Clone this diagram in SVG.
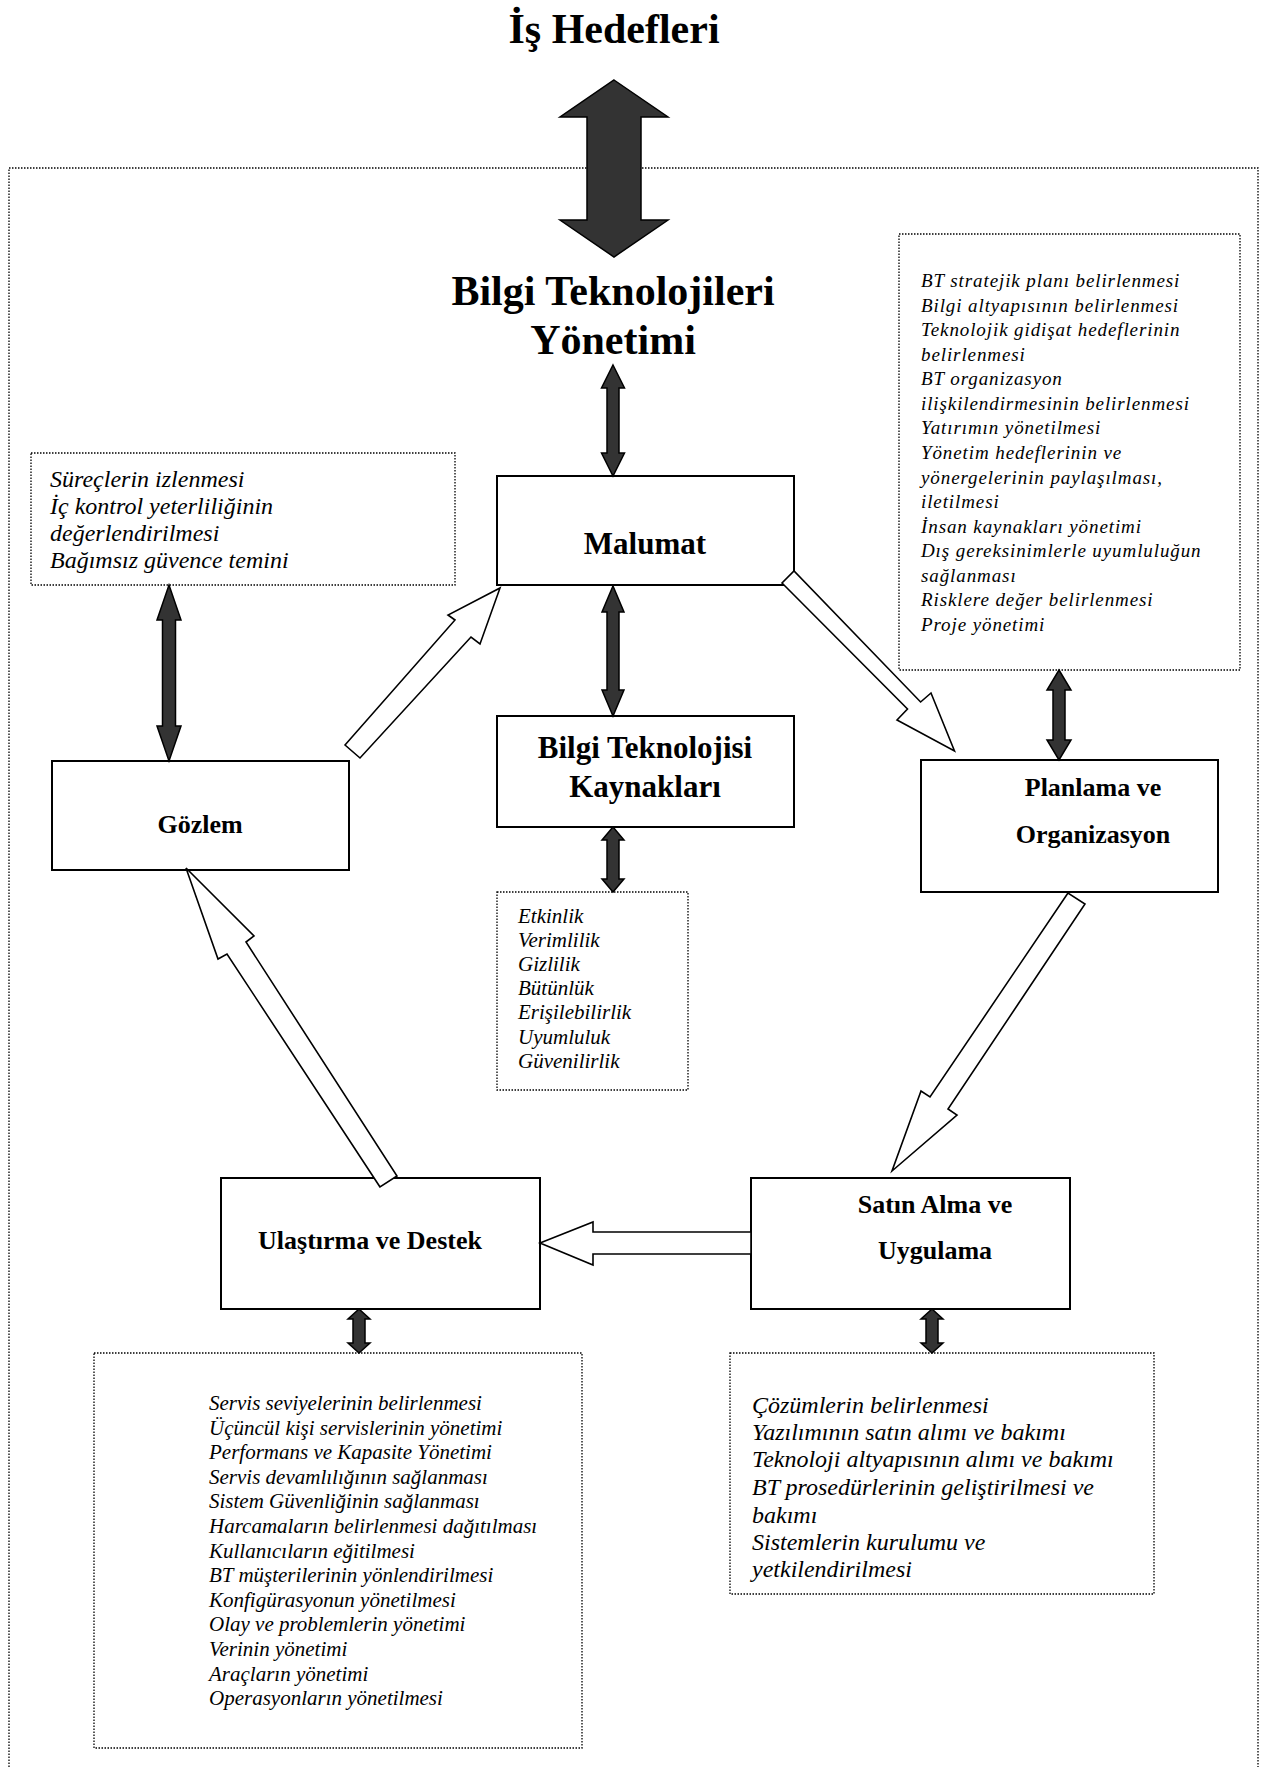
<svg xmlns="http://www.w3.org/2000/svg" width="1270" height="1767" viewBox="0 0 1270 1767">
<style>
.bg{fill:#fff}
.frame{fill:none;stroke:#000;stroke-width:1.3;stroke-dasharray:1.5 1.5}
.dot{fill:#fff;stroke:#000;stroke-width:1.3;stroke-dasharray:1.5 1.5}
.box{fill:#fff;stroke:#000;stroke-width:2}
.dark{fill:#333;stroke:#000;stroke-width:1.5;stroke-linejoin:miter}
.hollow{fill:#fff;stroke:#000;stroke-width:1.6;stroke-linejoin:miter}
.title{font-family:"Liberation Serif","Times New Roman",serif;font-weight:bold;font-size:42px;text-anchor:middle;fill:#000}
.node{font-family:"Liberation Serif","Times New Roman",serif;font-weight:bold;text-anchor:middle;fill:#000}
.list{font-family:"Liberation Serif","Times New Roman",serif;font-style:italic;fill:#000}
</style>
<rect class="bg" x="0" y="0" width="1270" height="1767"/>
<path class="frame" d="M9,1767 V168 H1258 V1767"/>

<g id="title-is-hedefleri">
<text class="title" x="614" y="43">İş Hedefleri</text>
</g>

<g id="bt-yonetimi">
<text class="title" x="613" y="305">Bilgi Teknolojileri</text>
<text class="title" x="613" y="354">Yönetimi</text>
</g>

<g id="node-malumat">
<rect class="box" x="497" y="476" width="297" height="109"/>
<text class="node" x="645" y="554" font-size="31">Malumat</text>
</g>

<g id="node-bt-kaynaklari">
<rect class="box" x="497" y="716" width="297" height="111"/>
<text class="node" x="645" y="758" font-size="31">Bilgi Teknolojisi</text>
<text class="node" x="645" y="797" font-size="31">Kaynakları</text>
</g>

<g id="node-gozlem">
<rect class="box" x="52" y="761" width="297" height="109"/>
<text class="node" x="200" y="833" font-size="26">Gözlem</text>
</g>

<g id="node-planlama">
<rect class="box" x="921" y="760" width="297" height="132"/>
<text class="node" x="1093" y="796" font-size="26">Planlama ve</text>
<text class="node" x="1093" y="843" font-size="26">Organizasyon</text>
</g>

<g id="node-satin-alma">
<rect class="box" x="751" y="1178" width="319" height="131"/>
<text class="node" x="935" y="1213" font-size="26">Satın Alma ve</text>
<text class="node" x="935" y="1259" font-size="26">Uygulama</text>
</g>

<g id="node-ulastirma">
<rect class="box" x="221" y="1178" width="319" height="131"/>
<text class="node" x="370" y="1249" font-size="26">Ulaştırma ve Destek</text>
</g>

<g id="list-gozlem">
<rect class="dot" x="31" y="453" width="424" height="132"/>
<text class="list" font-size="24">
<tspan x="50" y="487">Süreçlerin izlenmesi</tspan>
<tspan x="50" y="514">İç kontrol yeterliliğinin</tspan>
<tspan x="50" y="541">değerlendirilmesi</tspan>
<tspan x="50" y="568">Bağımsız güvence temini</tspan>
</text>
</g>

<g id="list-planlama">
<rect class="dot" x="899" y="234" width="341" height="436"/>
<text class="list" font-size="19" letter-spacing="0.9">
<tspan x="921" y="287">BT stratejik planı belirlenmesi</tspan>
<tspan x="921" y="311.6">Bilgi altyapısının belirlenmesi</tspan>
<tspan x="921" y="336.1">Teknolojik gidişat hedeflerinin</tspan>
<tspan x="921" y="360.7">belirlenmesi</tspan>
<tspan x="921" y="385.3">BT organizasyon</tspan>
<tspan x="921" y="409.9">ilişkilendirmesinin belirlenmesi</tspan>
<tspan x="921" y="434.4">Yatırımın yönetilmesi</tspan>
<tspan x="921" y="459">Yönetim hedeflerinin ve</tspan>
<tspan x="921" y="483.6">yönergelerinin paylaşılması,</tspan>
<tspan x="921" y="508.1">iletilmesi</tspan>
<tspan x="921" y="532.7">İnsan kaynakları yönetimi</tspan>
<tspan x="921" y="557.3">Dış gereksinimlerle uyumluluğun</tspan>
<tspan x="921" y="581.9">sağlanması</tspan>
<tspan x="921" y="606.4">Risklere değer belirlenmesi</tspan>
<tspan x="921" y="631">Proje yönetimi</tspan>
</text>
</g>

<g id="list-kaynaklar">
<rect class="dot" x="497" y="892" width="191" height="198"/>
<text class="list" font-size="21">
<tspan x="518" y="923">Etkinlik</tspan>
<tspan x="518" y="947">Verimlilik</tspan>
<tspan x="518" y="971">Gizlilik</tspan>
<tspan x="518" y="995">Bütünlük</tspan>
<tspan x="518" y="1019">Erişilebilirlik</tspan>
<tspan x="518" y="1044">Uyumluluk</tspan>
<tspan x="518" y="1068">Güvenilirlik</tspan>
</text>
</g>

<g id="list-ulastirma">
<rect class="dot" x="94" y="1353" width="488" height="395"/>
<text class="list" font-size="21">
<tspan x="209" y="1410">Servis seviyelerinin belirlenmesi</tspan>
<tspan x="209" y="1434.6">Üçüncül kişi servislerinin yönetimi</tspan>
<tspan x="209" y="1459.2">Performans ve Kapasite Yönetimi</tspan>
<tspan x="209" y="1483.8">Servis devamlılığının sağlanması</tspan>
<tspan x="209" y="1508.4">Sistem Güvenliğinin sağlanması</tspan>
<tspan x="209" y="1533">Harcamaların belirlenmesi dağıtılması</tspan>
<tspan x="209" y="1557.6">Kullanıcıların eğitilmesi</tspan>
<tspan x="209" y="1582.2">BT müşterilerinin yönlendirilmesi</tspan>
<tspan x="209" y="1606.8">Konfigürasyonun yönetilmesi</tspan>
<tspan x="209" y="1631.4">Olay ve problemlerin yönetimi</tspan>
<tspan x="209" y="1656">Verinin yönetimi</tspan>
<tspan x="209" y="1680.6">Araçların yönetimi</tspan>
<tspan x="209" y="1705.2">Operasyonların yönetilmesi</tspan>
</text>
</g>

<g id="list-satin-alma">
<rect class="dot" x="730" y="1353" width="424" height="241"/>
<text class="list" font-size="24">
<tspan x="752" y="1413">Çözümlerin belirlenmesi</tspan>
<tspan x="752" y="1440">Yazılımının satın alımı ve bakımı</tspan>
<tspan x="752" y="1467">Teknoloji altyapısının alımı ve bakımı</tspan>
<tspan x="752" y="1495">BT prosedürlerinin geliştirilmesi ve</tspan>
<tspan x="752" y="1523">bakımı</tspan>
<tspan x="752" y="1550">Sistemlerin kurulumu ve</tspan>
<tspan x="752" y="1577">yetkilendirilmesi</tspan>
</text>
</g>

<g id="connectors">
<polygon class="dark" points="614,80 668,117 641,117 641,220 668,220 614,257 560,220 587,220 587,117 560,117"/>
<polygon class="dark" points="613,365 624.5,388 619,388 619,453 624.5,453 613,476 601.5,453 607,453 607,388 601.5,388"/>
<polygon class="dark" points="613,586 624,612 619,612 619,690 624,690 613,716 602,690 607,690 607,612 602,612"/>
<polygon class="dark" points="613,827 624,840 619,840 619,879 624,879 613,892 602,879 607,879 607,840 602,840"/>
<polygon class="dark" points="169,585 181,620 175.5,620 175.5,726 181,726 169,761 157,726 162.5,726 162.5,620 157,620"/>
<polygon class="dark" points="1059,670 1071,690 1065,690 1065,740 1071,740 1059,760 1047,740 1053,740 1053,690 1047,690"/>
<polygon class="dark" points="359,1309 370,1319 365,1319 365,1343 370,1343 359,1353 348,1343 353,1343 353,1319 348,1319"/>
<polygon class="dark" points="932,1309 943,1319 938,1319 938,1343 943,1343 932,1353 921,1343 926,1343 926,1319 921,1319"/>
<polygon class="hollow" points="345,745 455,620 448,615 500,588 480,644 471,637 360,758"/>
<polygon class="hollow" points="782,583 907.5,709 897,720 954.5,751 931,693 920.6,702 794,571"/>
<polygon class="hollow" points="1068,893 930,1097 921,1091 892,1171 957,1115 948,1109 1085,904"/>
<polygon class="hollow" points="751,1232 593,1232 593,1222 540,1243 593,1265 593,1254 751,1254"/>
<polygon class="hollow" points="380,1187 227,954 218,959 186,868 254,936 246,942 397,1176"/>
</g>
</svg>
